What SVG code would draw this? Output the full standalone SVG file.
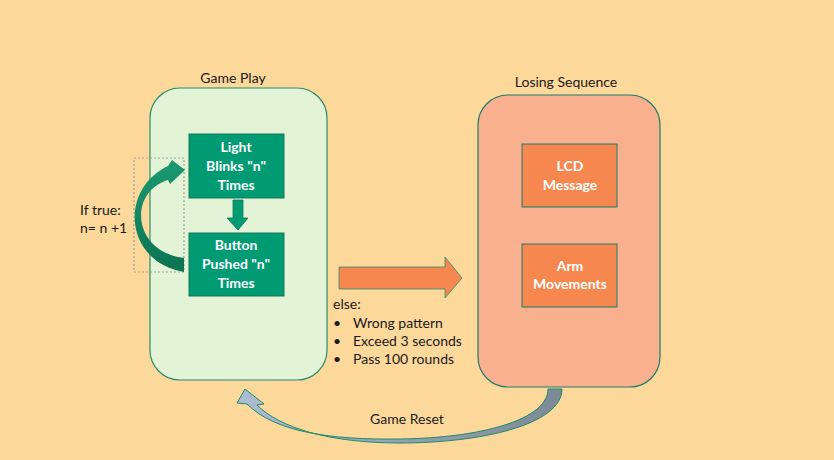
<svg xmlns="http://www.w3.org/2000/svg" width="834" height="460" viewBox="0 0 834 460">
<style>
.t{font-family:Lato,"Liberation Sans",sans-serif;font-size:14px;fill:#1a1a1a}
.w{font-family:Lato,"Liberation Sans",sans-serif;font-size:14px;font-weight:bold;fill:#ffffff;text-anchor:middle}
.gbox{fill:#009b72;stroke:#17775a;stroke-width:1}
.obox{fill:#f5874f;stroke:#1e7d6a;stroke-width:1}
</style>
<defs>
<linearGradient id="gArc" x1="0" y1="1" x2="0" y2="0">
<stop offset="0" stop-color="#0b7352"/>
<stop offset="1" stop-color="#1a9a70"/>
</linearGradient>
<linearGradient id="gReset" x1="0" y1="0" x2="1" y2="0">
<stop offset="0" stop-color="#abbdd2"/>
<stop offset="1" stop-color="#7c8996"/>
</linearGradient>
</defs>
<rect x="0" y="0" width="834" height="460" fill="#fdd89b"/>

<g id="game-play">
<rect x="150" y="88" width="177" height="292" rx="30" ry="30" fill="#e3f4d6" stroke="#2a8c6c" stroke-width="1.2"/>
<text class="t" x="233" y="83" text-anchor="middle">Game Play</text>
</g>

<g id="losing-sequence">
<rect x="478" y="95" width="182" height="292" rx="30" ry="30" fill="#f9b08e" stroke="#1e7d6a" stroke-width="1.2"/>
<text class="t" x="566" y="87" text-anchor="middle">Losing Sequence</text>
</g>

<g id="light-blinks">
<rect class="gbox" x="189" y="134" width="95" height="64"/>
<text class="w" x="236" y="152">Light</text>
<text class="w" x="236" y="171">Blinks "n"</text>
<text class="w" x="236" y="190">Times</text>
</g>

<g id="button-pushed">
<rect class="gbox" x="189" y="233" width="95" height="63"/>
<text class="w" x="236" y="250">Button</text>
<text class="w" x="236" y="269">Pushed "n"</text>
<text class="w" x="236" y="288">Times</text>
</g>

<g id="lcd-message">
<rect class="obox" x="522" y="144" width="95" height="63"/>
<text class="w" x="570" y="171">LCD</text>
<text class="w" x="570" y="190">Message</text>
</g>

<g id="arm-movements">
<rect class="obox" x="522" y="244" width="95" height="63"/>
<text class="w" x="570" y="271">Arm</text>
<text class="w" x="570" y="289">Movements</text>
</g>

<g id="loop-label">
<rect x="134" y="158" width="50" height="114" fill="none" stroke="#a0a0a0" stroke-width="1.2" stroke-dasharray="2,2"/>
<text class="t" x="80" y="215">If true:</text>
<text class="t" x="80" y="233">n= n +1</text>
</g>

<g id="else-label">
<text class="t" x="333" y="309">else:</text>
<text class="t" x="333" y="328">•</text>
<text class="t" x="353" y="328">Wrong pattern</text>
<text class="t" x="333" y="346">•</text>
<text class="t" x="353" y="346">Exceed 3 seconds</text>
<text class="t" x="333" y="364">•</text>
<text class="t" x="353" y="364">Pass 100 rounds</text>
</g>

<g id="reset-label">
<text class="t" x="407" y="424" text-anchor="middle">Game Reset</text>
</g>

<g id="connectors">
<polygon points="233,200 243,200 243,218 248,218 238,230 227,218 233,218" fill="#009b72" stroke="#17775a" stroke-width="0.8"/>
<path d="M184,272 C125,262 118,190 168,166 L172,160 L185,170 L170,184 L168,180 C128,192 132,252 184,258 Z" fill="url(#gArc)"/>
<polygon points="339,267 445,267 445,257 462,278 445,298 445,289 339,289" fill="#f5874f" stroke="#2a8c6c" stroke-width="0.8"/>
<path d="M548,389 L562,389 C562,425 480,443 400,443 C330,443 280,428 257,405 L264,404 L245,389 L237,403 L247,404 C275,432 330,440 400,439 C480,438 548,420 548,389 Z" fill="url(#gReset)" stroke="#1e8a68" stroke-width="1"/>
</g>
</svg>
